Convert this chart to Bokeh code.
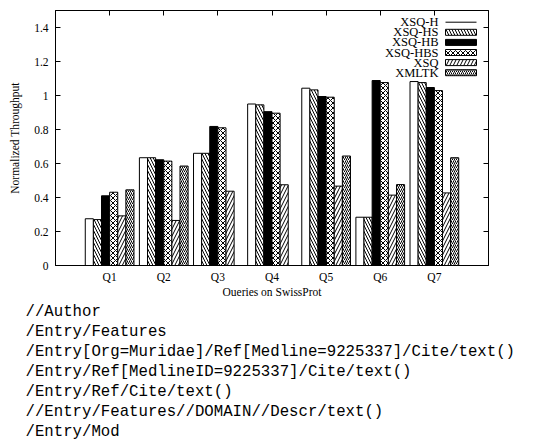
from bokeh.plotting import figure
from bokeh.models import Range1d, FixedTicker, LinearAxis, ColumnDataSource, Title
from bokeh.embed import file_html
from bokeh.resources import INLINE
from bokeh.core.properties import value

# ---------------- data ----------------
categories = ["Q1", "Q2", "Q3", "Q4", "Q5", "Q6", "Q7"]
series_names = ["XSQ-H", "XSQ-HS", "XSQ-HB", "XSQ-HBS", "XSQ", "XMLTK"]
xsq_h = [0.275, 0.634, 0.660, 0.950, 1.043, 0.284, 1.082]
xsq_hs = [0.270, 0.634, 0.660, 0.945, 1.033, 0.284, 1.076]
xsq_hb = [0.410, 0.622, 0.818, 0.905, 0.994, 1.088, 1.047]
xsq_hbs = [0.431, 0.614, 0.810, 0.896, 0.990, 1.076, 1.029]
xsq = [0.292, 0.265, 0.437, 0.475, 0.467, 0.414, 0.427]
xmltk = [0.445, 0.585, None, None, 0.644, 0.476, 0.634]
y_ticks = [0, 0.2, 0.4, 0.6, 0.8, 1.0, 1.2, 1.4]
y_tick_labels = ["0", "0.2", "0.4", "0.6", "0.8", "1", "1.2", "1.4"]
x_title = "Oueries on SwissProt"
y_title = "Normalized Throughput"
queries = [
    "//Author",
    "/Entry/Features",
    "/Entry[Org=Muridae]/Ref[Medline=9225337]/Cite/text()",
    "/Entry/Ref[MedlineID=9225337]/Cite/text()",
    "/Entry/Ref/Cite/text()",
    "//Entry/Features//DOMAIN//Descr/text()",
    "/Entry/Mod",
]

series_values = [xsq_h, xsq_hs, xsq_hb, xsq_hbs, xsq, xmltk]

SERIF = "Liberation Serif"
MONO = "Liberation Mono"
FS = "11.5px"

# styles per series: fill colour, hatch pattern, hatch scale
styles = [
    dict(fill_color="white", hatch_pattern=" ", hatch_scale=6),
    dict(fill_color="white", hatch_pattern="left_diagonal_line", hatch_scale=6),
    dict(fill_color="black", hatch_pattern=" ", hatch_scale=6),
    dict(fill_color="white", hatch_pattern="diagonal_cross", hatch_scale=5),
    dict(fill_color="white", hatch_pattern="right_diagonal_line", hatch_scale=7),
    dict(fill_color="white", hatch_pattern="right_diagonal_line", hatch_scale=4),
]

n = len(series_names)
bar_w = 0.15
offsets = [(i - (n - 1) / 2) * bar_w for i in range(n)]
xpos = list(range(1, len(categories) + 1))

# layout in pixels
W, H = 538, 444
FL, FR, FT, FB = 55, 50, 10, 179      # frame borders
frame_w = W - FL - FR
frame_h = H - FT - FB
XMAX = len(categories) + 1
YMAX = 1.5

p = figure(width=W, height=H, x_range=Range1d(0, XMAX),
           y_range=Range1d(0, YMAX), output_backend="svg", toolbar_location=None,
           min_border_left=FL, min_border_right=FR, min_border_top=FT,
           min_border_bottom=FB)
p.grid.visible = False
p.outline_line_color = "black"
p.background_fill_color = "white"

for i, (name, vals) in enumerate(zip(series_names, series_values)):
    xs = [x + offsets[i] for x, v in zip(xpos, vals) if v is not None]
    ys = [v for v in vals if v is not None]
    src = ColumnDataSource(dict(x=xs, top=ys))
    st = styles[i]
    p.vbar(x="x", top="top", bottom=0, width=bar_w, source=src,
           fill_color=st["fill_color"], line_color="black", line_width=1,
           hatch_pattern=st["hatch_pattern"], hatch_color="black",
           hatch_scale=st["hatch_scale"], hatch_weight=1)

# helpers converting page pixels to data coordinates (layout only)
def px_x(px):
    return (px - FL) / frame_w * XMAX

def px_y(py):
    return (FT + frame_h - py) / frame_h * YMAX

# custom legend (text left of sample, gnuplot style)
leg_text_x = px_x(438)
leg_x0, leg_x1 = px_x(445), px_x(476)
leg_rows_py = [21.7 + i * 10.1 for i in range(n)]
leg_h = 6.0 / frame_h * YMAX
for i, name in enumerate(series_names):
    yy = px_y(leg_rows_py[i])
    p.text(x=[leg_text_x], y=[yy], text=[name], text_font=value(SERIF),
           text_font_size=value("12.5px"), text_align="right",
           text_baseline="middle", text_color="black")
    st = styles[i]
    if i == 0:
        p.segment(x0=[leg_x0], y0=[yy], x1=[leg_x1], y1=[yy], line_color="black",
                  line_width=1)
    else:
        p.rect(x=[(leg_x0 + leg_x1) / 2], y=[yy], width=leg_x1 - leg_x0,
               height=leg_h, fill_color=st["fill_color"], line_color="black",
               hatch_pattern=st["hatch_pattern"], hatch_color="black",
               hatch_scale=st["hatch_scale"])

def style_axis(ax):
    ax.axis_line_color = "black"
    ax.major_tick_line_color = "black"
    ax.major_tick_in = 5
    ax.major_tick_out = 0
    ax.minor_tick_in = 0
    ax.minor_tick_out = 0
    ax.major_label_text_font = SERIF
    ax.major_label_text_color = "black"
    ax.major_label_text_font_size = FS
    ax.axis_label_text_font = SERIF
    ax.axis_label_text_font_style = "normal"
    ax.axis_label_text_color = "black"
    ax.axis_label_text_font_size = FS

xb = p.xaxis[0]
xb.ticker = FixedTicker(ticks=xpos)
xb.major_label_overrides = {x: c for x, c in zip(xpos, categories)}
xb.axis_label = x_title
style_axis(xb)
xb.major_label_standoff = 5
xb.axis_label_standoff = 0

yl = p.yaxis[0]
yl.ticker = FixedTicker(ticks=y_ticks)
yl.major_label_overrides = {t: s for t, s in zip(y_ticks, y_tick_labels)}
yl.axis_label = y_title
style_axis(yl)
yl.major_label_standoff = 7
yl.axis_label_standoff = 10

yr = LinearAxis(ticker=FixedTicker(ticks=y_ticks))
style_axis(yr)
yr.major_label_overrides = {t: "" for t in y_ticks}
p.add_layout(yr, "right")

xt = LinearAxis(ticker=FixedTicker(ticks=xpos))
style_axis(xt)
xt.major_label_overrides = {x: "" for x in xpos}
p.add_layout(xt, "above")

# ----- query list below the chart (stacked titles in the bottom panel) -----
for i, q in enumerate(queries):
    t = Title(text=q, align="left", offset=25 - FL,
              text_font=MONO, text_font_size="15.7px",
              text_font_style="normal", text_color="black",
              standoff=0)
    p.add_layout(t, "below")

open("out.html", "w").write(file_html(p, INLINE))
